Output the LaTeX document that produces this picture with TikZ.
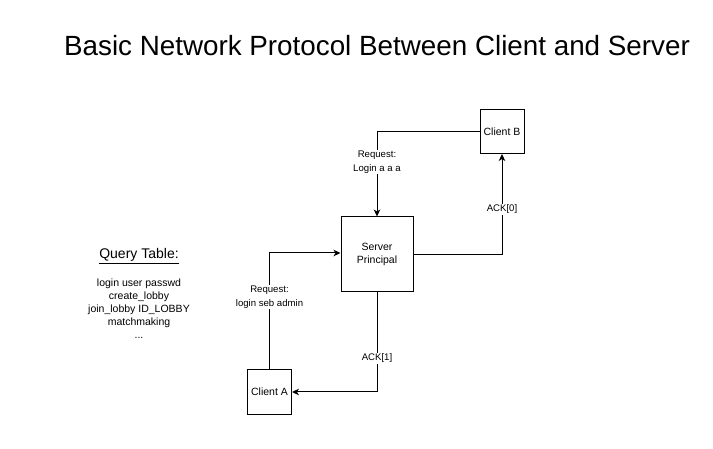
\documentclass[tikz,border=0pt]{standalone}
\usepackage{fontspec}
\setmainfont{Liberation Sans}
\usetikzlibrary{arrows.meta}
\tikzset{>={Stealth[length=7pt, width=6.5pt, inset=2pt]}, % arrow heads
x=1pt, y=-1pt, % one unit is one pixel of the page
box/.style={draw, line width=1pt, minimum width=44pt, minimum height=44pt, inner sep=1pt, font=\fontsize{10.5}{13}\selectfont, align=center}, % the machines
msg/.style={fill=white, inner sep=1pt, font=\fontsize{9.6}{13.5}\selectfont, align=center}, % text on the links
link/.style={->, line width=1pt}, % the links
}
\begin{document}
\begin{tikzpicture}
    \useasboundingbox (0,0) rectangle (713,449);
    \node[font=\fontsize{27.8}{32}\selectfont] (title) at (377,46) {Basic Network Protocol Between Client and Server};
    \node[box] (cb) at (502,131.5) {Client B};
    \node[box, minimum width=72pt, minimum height=75pt] (srv) at (377,254.5) {Server\\Principal};
    \node[box] (ca) at (269.5,392) {Client A};
    \node[font=\fontsize{14}{17}\selectfont] (qt) at (139,256) {\underline{Query Table:}};
    \node[align=center, font=\fontsize{10.5}{13}\selectfont] (qlist) at (139,309) {login user passwd\\create\_lobby\\join\_lobby ID\_LOBBY\\matchmaking\\...};
    \draw[link] (cb.west) -| node[msg, pos=0.68]{Request:\\Login a a a} (srv.north);
    \draw[link] (srv.east) -| node[msg, pos=0.725]{ACK[0]} (cb.south);
    \draw[link] (ca.north) |- node[msg, pos=0.31]{Request:\\login seb admin} ([yshift=1.5pt]srv.west);
    \draw[link] (srv.south) |- node[msg, pos=0.33]{ACK[1]} (ca.east);
\end{tikzpicture}
\end{document}
